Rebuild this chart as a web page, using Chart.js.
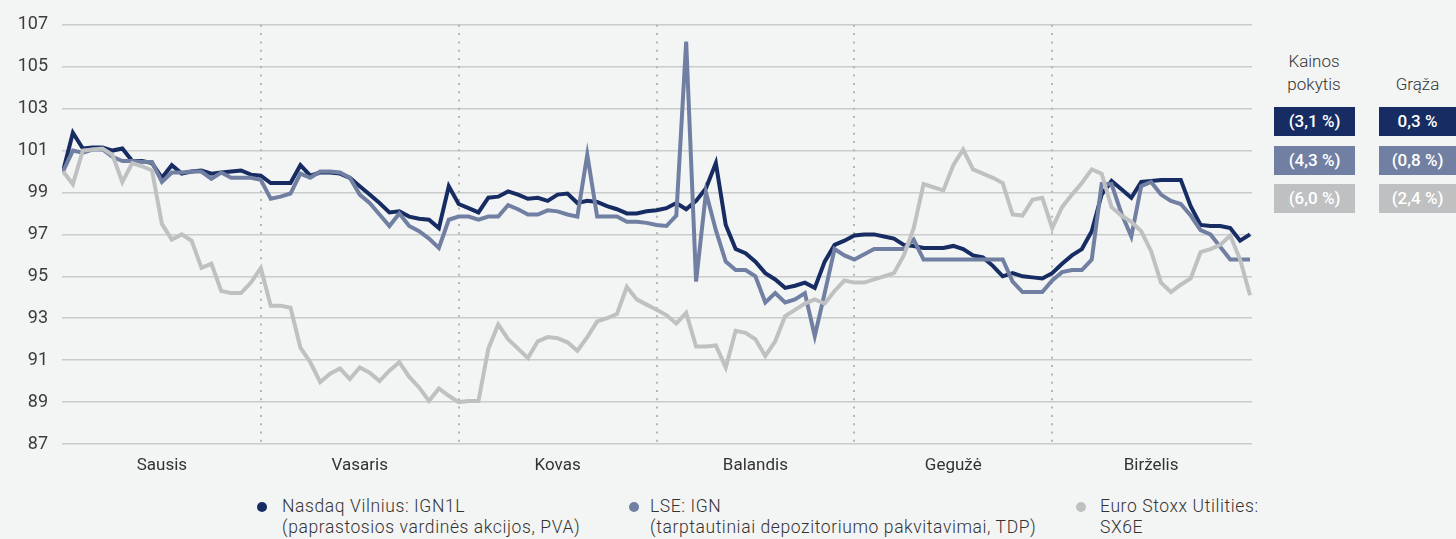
<!DOCTYPE html>
<html lang="lt">
<head>
  <meta charset="UTF-8">
  <title>Akcijų kainos pokytis</title>
  <script src="https://cdn.jsdelivr.net/npm/chart.js@4.4.3/dist/chart.umd.min.js"></script>
  <style>
    body { margin: 0; width: 1456px; height: 539px; overflow: hidden; background: #f3f4f4; font-family: Roboto, "Liberation Sans", sans-serif; color: #333; }
    #chartBox { position: absolute; left: 0; top: 0; width: 1256px; height: 480px; }
    .hdr { position: absolute; font-size: 17px; font-weight: 300; line-height: 23px; text-align: center; color: #333; }
    .cell { position: absolute; height: 29px; line-height: 29px; color: #fff; font-size: 17px; font-weight: 500; text-align: center; }
    .leg { position: absolute; top: 496px; font-weight: 300; font-size: 17.5px; letter-spacing: 0.6px; line-height: 21px; color: #333; }
    .dot { position: absolute; width: 10px; height: 10px; border-radius: 50%; }
  </style>
</head>
<body>
  <div id="chartBox"><canvas id="priceChart"></canvas></div>
  <div id="side"></div>
  <div id="legend"></div>

  <script>
    // duomenys
    const months = ['Sausis', 'Vasaris', 'Kovas', 'Balandis', 'Gegužė', 'Birželis'];
    const monthCenters = [10, 30, 50, 70, 90, 110];
    const monthBounds = [20, 40, 60, 80, 100];
    const yTicks = [87, 89, 91, 93, 95, 97, 99, 101, 103, 105, 107];

    const nasdaq = [
      100.0, 101.85, 101.1, 101.15, 101.15, 101.0, 101.1, 100.5, 100.5, 100.4,
      99.7, 100.3, 99.9, 100.0, 100.05, 99.9, 99.95, 100.0, 100.05, 99.85,
      99.8, 99.45, 99.45, 99.45, 100.3, 99.8, 99.95, 99.95, 99.9, 99.7,
      99.3, 98.9, 98.5, 98.05, 98.1, 97.85, 97.75, 97.7, 97.3, 99.3,
      98.45, 98.25, 98.05, 98.75, 98.8, 99.05, 98.9, 98.7, 98.75, 98.6,
      98.9, 98.95, 98.5, 98.6, 98.55, 98.35, 98.2, 98.0, 98.0, 98.1,
      98.15, 98.25, 98.5, 98.2, 98.6, 99.2, 100.4, 97.45, 96.3, 96.1,
      95.7, 95.15, 94.85, 94.45, 94.55, 94.7, 94.45, 95.7, 96.5, 96.7,
      96.95, 97.0, 97.0, 96.9, 96.8, 96.5, 96.45, 96.35, 96.35, 96.35,
      96.45, 96.3, 96.0, 95.9, 95.5, 95.0, 95.15, 95.0, 94.95, 94.9,
      95.15, 95.6, 96.0, 96.3, 97.15, 98.9, 99.55, 99.15, 98.75, 99.5,
      99.55, 99.6, 99.6, 99.6, 98.35, 97.45, 97.4, 97.4, 97.3, 96.7,
      97.0
    ];
    const lse = [
      100.0, 101.0, 100.9, 101.05, 101.05, 100.7, 100.5, 100.5, 100.45, 100.45,
      99.5, 99.95, 99.95, 100.0, 100.0, 99.65, 99.95, 99.7, 99.7, 99.7,
      99.6, 98.7, 98.8, 98.95, 99.9, 99.7, 100.0, 100.0, 99.95, 99.7,
      98.9, 98.5, 97.95, 97.4, 98.0, 97.4, 97.15, 96.8, 96.35, 97.7,
      97.85, 97.85, 97.7, 97.85, 97.85, 98.4, 98.2, 97.95, 97.95, 98.15,
      98.1, 97.95, 97.85, 100.8, 97.85, 97.85, 97.85, 97.6, 97.6, 97.55,
      97.45, 97.4, 97.9, 106.2, 94.75, 99.0, 97.2, 95.7, 95.3, 95.3,
      95.0, 93.75, 94.2, 93.75, 93.9, 94.2, 92.15, 94.2, 96.3, 96.0,
      95.8, 96.05, 96.3, 96.3, 96.3, 96.3, 96.75, 95.8, 95.8, 95.8,
      95.8, 95.8, 95.8, 95.8, 95.8, 95.8, 94.75, 94.25, 94.25, 94.25,
      94.8, 95.2, 95.3, 95.3, 95.8, 99.4, 99.4, 98.0, 96.9, 99.3,
      99.5, 98.9, 98.6, 98.45, 97.9, 97.2, 97.0, 96.4, 95.8, 95.8,
      95.8
    ];
    const stoxx = [
      100.0, 99.4, 101.0, 101.05, 101.1, 100.8, 99.5, 100.4, 100.25, 100.05,
      97.5, 96.75, 97.0, 96.7, 95.4, 95.6, 94.3, 94.2, 94.2, 94.7,
      95.4, 93.6, 93.6, 93.5, 91.6, 90.9, 89.95, 90.35, 90.6, 90.1,
      90.65, 90.4, 90.0, 90.5, 90.9, 90.2, 89.7, 89.05, 89.65, 89.3,
      89.0, 89.05, 89.05, 91.55, 92.7, 92.0, 91.55, 91.1, 91.9, 92.1,
      92.05, 91.85, 91.45, 92.1, 92.85, 93.0, 93.2, 94.5, 93.9, 93.65,
      93.4, 93.15, 92.75, 93.25, 91.65, 91.65, 91.7, 90.65, 92.4, 92.3,
      92.0, 91.2, 91.9, 93.1, 93.4, 93.7, 93.9, 93.7, 94.3, 94.8,
      94.7, 94.7, 94.85, 95.0, 95.15, 96.0, 97.3, 99.4, 99.25, 99.1,
      100.3, 101.05, 100.1, 99.9, 99.7, 99.45, 97.95, 97.9, 98.65, 98.75,
      97.3, 98.3, 98.9, 99.45, 100.1, 99.9, 98.3, 97.9, 97.6, 97.15,
      96.2, 94.7, 94.25, 94.6, 94.9, 96.15, 96.3, 96.5, 96.95, 95.8,
      94.1
    ];

    const seriesNames = [
      ['Nasdaq Vilnius: IGN1L', '(paprastosios vardinės akcijos, PVA)'],
      ['LSE: IGN', '(tarptautiniai depozitoriumo pakvitavimai, TDP)'],
      ['Euro Stoxx Utilities:', 'SX6E']
    ];
    const priceChange = ['(3,1 %)', '(4,3 %)', '(6,0 %)'];
    const returns = ['0,3 %', '(0,8 %)', '(2,4 %)'];
    const colors = ['#172c62', '#7180a2', '#bfc0c1'];

    const toPoints = arr => arr.map((v, i) => ({ x: i, y: v }));

    new Chart(document.getElementById('priceChart'), {
      type: 'line',
      data: {
        datasets: [
          { data: toPoints(nasdaq), borderColor: colors[0], borderWidth: 4, order: 3 },
          { data: toPoints(lse), borderColor: colors[1], borderWidth: 4, order: 2 },
          { data: toPoints(stoxx), borderColor: colors[2], borderWidth: 4, order: 1 }
        ]
      },
      options: {
        responsive: true,
        maintainAspectRatio: false,
        animation: false,
        events: [],
        layout: { padding: { top: 22, right: 4, left: 0, bottom: 0 } },
        elements: { point: { radius: 0 }, line: { tension: 0 } },
        plugins: { legend: { display: false }, tooltip: { enabled: false } },
        scales: {
          y: {
            min: 87, max: 107,
            afterBuildTicks: axis => { axis.ticks = yTicks.map(v => ({ value: v })); },
            afterFit: axis => { axis.width = 62; },
            ticks: { color: '#3c3c3c', font: { family: 'Roboto', size: 18 }, padding: 14 },
            grid: { color: '#c9cbcc', lineWidth: 1.5, drawTicks: false },
            border: { display: false }
          },
          x: {
            type: 'linear', min: -0.1, max: 120.2,
            afterBuildTicks: axis => { axis.ticks = monthCenters.map(v => ({ value: v })); },
            afterFit: axis => { axis.height = 36; },
            ticks: {
              autoSkip: false, maxRotation: 0, padding: 4,
              color: '#333', font: { family: 'Roboto', size: 17 },
              callback: (v, i) => months[i]
            },
            grid: { display: false },
            border: { display: false }
          },
          x2: {
            type: 'linear', position: 'bottom', min: -0.1, max: 120.2,
            afterBuildTicks: axis => { axis.ticks = monthBounds.map(v => ({ value: v })); },
            afterFit: axis => { axis.height = 0; },
            ticks: { display: false },
            grid: { color: '#b3b6b8', lineWidth: 2, drawTicks: false },
            border: { display: false, dash: [2, 6.3] }
          }
        }
      }
    });

    // lentelė dešinėje
    const side = document.getElementById('side');
    side.innerHTML = `
      <div class="hdr" style="left:1264px;top:50px;width:100px;">Kainos<br>pokytis</div>
      <div class="hdr" style="left:1379px;top:73px;width:77px;">Grąža</div>`;
    const rowTops = [107, 146, 184];
    for (let i = 0; i < 3; i++) {
      side.innerHTML += `
        <div class="cell" style="left:1274px;top:${rowTops[i]}px;width:81px;background:${colors[i]}">${priceChange[i]}</div>
        <div class="cell" style="left:1379px;top:${rowTops[i]}px;width:77px;background:${colors[i]}">${returns[i]}</div>`;
    }

    // legenda
    const legend = document.getElementById('legend');
    const legDot = [257, 629, 1076];
    const legText = [282, 650, 1100];
    seriesNames.forEach((n, i) => {
      legend.innerHTML += `
        <div class="dot" style="left:${legDot[i]}px;top:502px;background:${colors[i]}"></div>
        <div class="leg" style="left:${legText[i]}px;">${n[0]}<br>${n[1]}</div>`;
    });
  </script>
</body>
</html>
